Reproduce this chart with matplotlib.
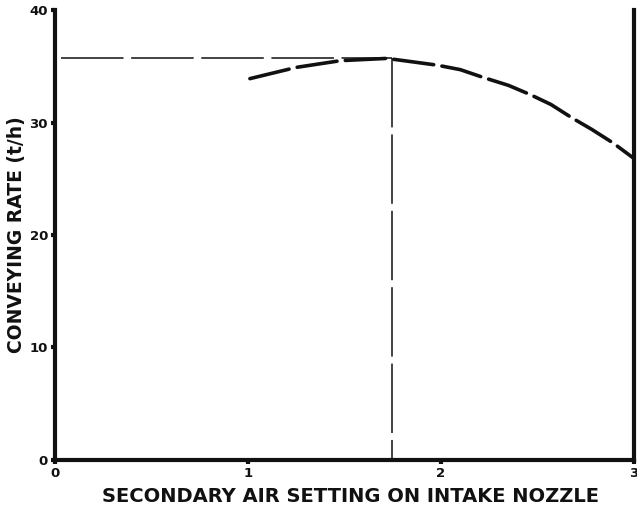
import matplotlib
matplotlib.use("Agg")
import matplotlib.pyplot as plt

# values
curve_x = [1.01, 1.25, 1.48, 1.60, 1.72, 1.98, 2.10, 2.22, 2.35, 2.46, 2.57, 2.68, 2.78, 2.89, 3.0]
curve_y = [33.9, 34.9, 35.5, 35.6, 35.7, 35.1, 34.7, 34.0, 33.3, 32.5, 31.6, 30.4, 29.4, 28.2, 26.8]
peak_x = 1.745
peak_y = 35.7
x_ticks = [0, 1, 2, 3]
y_ticks = [0, 10, 20, 30, 40]

plt.rcParams['lines.scale_dashes'] = False
ink = '#111111'

fig = plt.figure(figsize=(6.37, 5.09), dpi=100)
ax = fig.add_axes([0.0863, 0.0963, 0.9090, 0.8840])

# guide lines to the optimum
ax.plot([0.03, peak_x], [peak_y, peak_y], color=ink, lw=1.1, dashes=(45, 5.5), solid_capstyle='butt')
ax.plot([peak_x, peak_x], [peak_y, 0], color=ink, lw=1.1, dashes=(50, 5), solid_capstyle='butt')

# conveying rate curve
ax.plot(curve_x, curve_y, color=ink, lw=2.6, dashes=(29, 6), dash_capstyle='round', clip_on=False)

ax.set_xlim(0, 3)
ax.set_ylim(0, 40)
ax.set_xticks(x_ticks)
ax.set_yticks(y_ticks)
ax.set_xticklabels([str(v) for v in x_ticks])
ax.set_yticklabels([str(v) for v in y_ticks])

ax.spines['top'].set_visible(False)
for s in ['left', 'bottom', 'right']:
    ax.spines[s].set_linewidth(3)
    ax.spines[s].set_color(ink)

ax.tick_params(direction='out', length=3, width=3, color=ink, labelsize=9.5,
               labelcolor=ink, pad=2)
ax.tick_params(axis='y', right=False)
for lab in ax.get_xticklabels() + ax.get_yticklabels():
    lab.set_fontweight('bold')

ax.set_xlabel('SECONDARY AIR SETTING ON INTAKE NOZZLE', fontsize=14, fontweight='bold', color=ink)
ax.set_ylabel('CONVEYING RATE (t/h)', fontsize=13.5, fontweight='bold', color=ink)
ax.xaxis.set_label_coords(0.51, -0.06)
ax.yaxis.set_label_coords(-0.05, 0.5)

fig.savefig('out.png', dpi=100)
